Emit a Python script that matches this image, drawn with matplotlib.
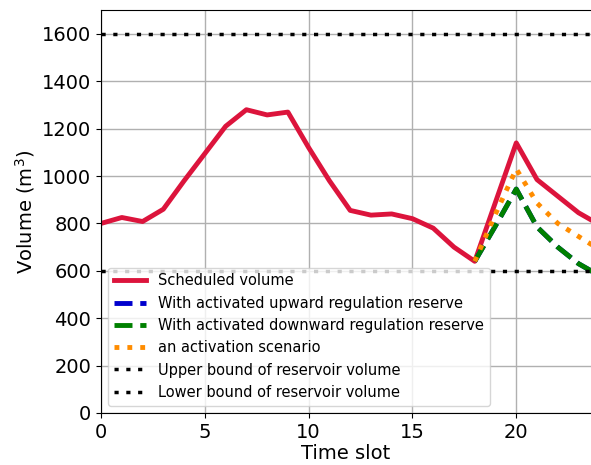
import matplotlib
matplotlib.use('Agg')
import matplotlib.pyplot as plt
import numpy

# Scheduled reservoir volume per time slot
slots = numpy.arange(0, 25)
scheduled = [800, 825, 808, 860, 980, 1095, 1210, 1280, 1258, 1270, 1120, 980,
             855, 835, 840, 820, 780, 700, 640, 890, 1140, 985, 915, 845, 795]

# Deviations after activation (from slot 18)
act_slots = numpy.arange(18, 25)
upward = [640, 790, 945, 785, 700, 630, 580]
downward = [640, 790, 945, 785, 700, 630, 580]
scenario = [640, 840, 1030, 886, 800, 745, 690]

upper_bound = 1600
lower_bound = 600

plt.figure(figsize=(5.91, 4.65), dpi=100)
plt.subplots_adjust(left=0.171, right=1.0, bottom=0.112, top=0.978)

plt.plot(slots, scheduled, color='crimson', linewidth=3.5, label='Scheduled volume')
plt.plot(act_slots, upward, color='mediumblue', linestyle='--', linewidth=3.5,
         label='With activated upward regulation reserve')
plt.plot(act_slots, downward, color='green', linestyle='--', linewidth=3.5,
         label='With activated downward regulation reserve')
plt.plot(act_slots, scenario, color='darkorange', linestyle=':', linewidth=3.5,
         label='an activation scenario')
plt.plot(slots, [upper_bound] * len(slots), color='black', linestyle=(0, (1.2, 2.2)),
         linewidth=2.5, label='Upper bound of reservoir volume')
plt.plot(slots, [lower_bound] * len(slots), color='black', linestyle=(0, (1.2, 2.2)),
         linewidth=2.5, label='Lower bound of reservoir volume')

plt.xlim(0, 23.6)
plt.ylim(0, 1700)
plt.xticks([0, 5, 10, 15, 20], fontsize=14)
plt.yticks(range(0, 1601, 200), fontsize=14)
plt.xlabel('Time slot', fontsize=14, labelpad=2)
plt.ylabel('Volume (m$^3$)', fontsize=14)
plt.grid(True, color='#b0b0b0', linewidth=1)

plt.legend(loc='lower left', fontsize=10.5, handlelength=2.2, borderaxespad=0.5)

ax = plt.gca()
ax.spines['right'].set_visible(False)

plt.savefig('out.png', dpi=100)
